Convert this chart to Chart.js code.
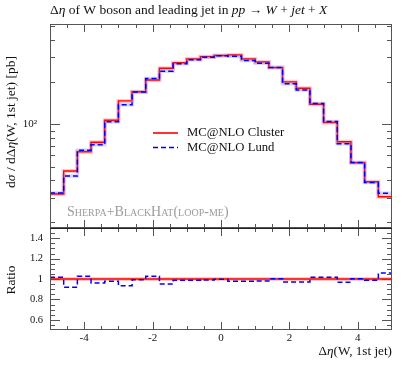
<!DOCTYPE html>
<html>
<head>
<meta charset="utf-8">
<script src="https://cdn.jsdelivr.net/npm/chart.js@4"></script>
<style>
  html, body { margin: 0; padding: 0; background: #fff; }
  #wrap { position: relative; width: 405px; height: 365px; overflow: hidden; }
  canvas { position: absolute; left: 0; }
  #mainChart { top: 0; }
  #ratioChart { top: 224px; }
</style>
</head>
<body>
<div id="wrap">
  <canvas id="mainChart" width="405" height="232"></canvas>
  <canvas id="ratioChart" width="405" height="141"></canvas>
</div>
<script>
// ── DATA ─────────────────────────────────────────────────────────────────────
const binEdges = [-5, -4.6, -4.2, -3.8, -3.4, -3.0, -2.6, -2.2, -1.8, -1.4, -1.0, -0.6, -0.2,
                  0.2, 0.6, 1.0, 1.4, 1.8, 2.2, 2.6, 3.0, 3.4, 3.8, 4.2, 4.6, 5.0];

const clusterVals = [31.8, 46.4, 63.7, 74.4, 107, 147, 171, 207, 251, 275, 293, 304, 310,
                     313, 293, 279, 254, 201, 181, 139, 103, 75.1, 53.2, 38.9, 30.4];
const lundVals    = [32.3, 42.7, 65.4, 71.5, 104.5, 138, 170, 212, 239, 271, 289, 301, 309,
                     306, 286, 273, 254, 195, 176, 141, 104.6, 72.6, 53.4, 38.4, 32.2];
const lundRatio   = [1.016, 0.919, 1.026, 0.961, 0.977, 0.935, 0.993, 1.026, 0.951, 0.987, 0.987, 0.99, 0.997,
                     0.977, 0.977, 0.98, 1.003, 0.971, 0.971, 1.016, 1.016, 0.967, 1.003, 0.987, 1.059];
const clusterRatio = [1, 1];

const seriesNames = ["MC@NLO Cluster", "MC@NLO Lund"];

const xTickVals   = [-4, -2, 0, 2, 4];
const xMinorTicks = [-4.5, -3.5, -3, -2.5, -1.5, -1, -0.5, 0.5, 1, 1.5, 2.5, 3, 3.5, 4.5];
const yMainTicks  = [100];
const yMainLabels = ["10²"];
const yMainMinor  = [20, 30, 40, 50, 60, 70, 80, 90, 200, 300, 400, 500];
const ratioTicks  = [0.6, 0.8, 1, 1.2, 1.4];
const ratioLabels = ["0.6", "0.8", "1", "1.2", "1.4"];
const ratioMinor  = [0.55, 0.65, 0.7, 0.75, 0.85, 0.9, 0.95, 1.05, 1.1, 1.15, 1.25, 1.3, 1.35, 1.45];

const titleParts  = [["Δ", 0], ["η", 1], [" of W boson and leading jet in ", 0], ["pp", 1], [" → ", 0],
                     ["W", 1], [" + ", 0], ["jet", 1], [" + ", 0], ["X", 1]];
const yLabelParts = [["d", 0], ["σ", 1], [" / dΔ", 0], ["η", 1], ["(W, 1st jet) [pb]", 0]];
const xLabelParts = [["Δ", 0], ["η", 1], ["(W, 1st jet)", 0]];
const ratioLabel  = "Ratio";
const watermark   = "Sherpa+BlackHat(loop-me)";

// ── HELPERS ──────────────────────────────────────────────────────────────────
const SERIF = "'Liberation Serif', 'DejaVu Serif', serif";
const RED = "#ff0000", BLUE = "#0000ff";

function histPoints(vals) {
  return binEdges.map((e, i) => ({ x: e, y: vals[Math.min(i, vals.length - 1)] }));
}

function drawRich(ctx, parts, x, y, size, align) {
  const fontOf = it => (it ? "italic " : "") + size + "px " + SERIF;
  let total = 0;
  parts.forEach(p => { ctx.font = fontOf(p[1]); total += ctx.measureText(p[0]).width; });
  let cx = align === "center" ? x - total / 2 : align === "right" ? x - total : x;
  ctx.textAlign = "left";
  parts.forEach(p => {
    ctx.font = fontOf(p[1]);
    ctx.fillText(p[0], cx, y);
    cx += ctx.measureText(p[0]).width;
  });
}

function noPad(s) {
  s.paddingTop = 0; s.paddingBottom = 0; s.paddingLeft = 0; s.paddingRight = 0;
}

function drawFrame(chart, yScale, majors, minors) {
  const ctx = chart.ctx, a = chart.chartArea, xs = chart.scales.x;
  ctx.save();
  ctx.strokeStyle = "#555";
  ctx.lineWidth = 1;
  ctx.strokeRect(a.left + 0.5, a.top + 0.5, a.right - a.left - 1, a.bottom - a.top - 1);
  ctx.beginPath();
  const xt = (v, len) => {
    const px = Math.round(xs.getPixelForValue(v)) + 0.5;
    ctx.moveTo(px, a.top); ctx.lineTo(px, a.top + len);
    ctx.moveTo(px, a.bottom); ctx.lineTo(px, a.bottom - len);
  };
  xTickVals.forEach(v => xt(v, 8));
  xMinorTicks.forEach(v => xt(v, 4));
  const yt = (v, len) => {
    const py = Math.round(yScale.getPixelForValue(v)) + 0.5;
    ctx.moveTo(a.left, py); ctx.lineTo(a.left + len, py);
    ctx.moveTo(a.right, py); ctx.lineTo(a.right - len, py);
  };
  majors.forEach(v => yt(v, 10));
  minors.forEach(v => yt(v, 5));
  ctx.stroke();
  ctx.restore();
}

// ── MAIN PANEL ───────────────────────────────────────────────────────────────
const mainTexts = {
  id: "mainTexts",
  afterDraw(chart) {
    const ctx = chart.ctx;
    drawFrame(chart, chart.scales.y, yMainTicks, yMainMinor);
    ctx.save();
    ctx.fillStyle = "#111";
    ctx.textBaseline = "alphabetic";
    drawRich(ctx, titleParts, 50, 14, 13.5, "left");

    ctx.save();
    ctx.translate(15, 122);
    ctx.rotate(-Math.PI / 2);
    drawRich(ctx, yLabelParts, 0, 0, 13.5, "center");
    ctx.restore();

    // legend
    ctx.lineWidth = 1.6;
    ctx.strokeStyle = RED;
    ctx.setLineDash([]);
    ctx.beginPath(); ctx.moveTo(153, 133); ctx.lineTo(178, 133); ctx.stroke();
    ctx.strokeStyle = BLUE;
    ctx.setLineDash([5, 3]);
    ctx.beginPath(); ctx.moveTo(153, 147.5); ctx.lineTo(178, 147.5); ctx.stroke();
    ctx.setLineDash([]);
    ctx.font = "12.7px " + SERIF;
    ctx.textBaseline = "middle";
    ctx.fillText(seriesNames[0], 187, 133);
    ctx.fillText(seriesNames[1], 187, 147.5);

    // watermark
    ctx.fillStyle = "#9c9c9c";
    ctx.font = "small-caps 14px " + SERIF;
    ctx.fillText(watermark, 67, 212);
    ctx.restore();
  }
};

new Chart(document.getElementById("mainChart"), {
  type: "line",
  data: {
    datasets: [
      { data: histPoints(lundVals), borderColor: BLUE, borderWidth: 1.5, borderDash: [5, 3], order: 0 },
      { data: histPoints(lundVals), borderColor: "rgba(90,90,255,0.25)", borderWidth: 3.5, order: 1 },
      { data: histPoints(clusterVals), borderColor: RED, borderWidth: 1.4, order: 2 },
      { data: histPoints(clusterVals), borderColor: "rgba(255,60,60,0.28)", borderWidth: 4, order: 3 }
    ].map(d => Object.assign(d, { stepped: "before", pointRadius: 0, fill: false, tension: 0 }))
  },
  options: {
    responsive: false,
    animation: false,
    layout: { padding: { top: 24, right: 13, bottom: 4, left: 0 } },
    plugins: { legend: { display: false }, tooltip: { enabled: false } },
    scales: {
      x: { type: "linear", min: -5, max: 5, display: false },
      y: {
        type: "logarithmic", min: 18.2, max: 520,
        afterFit: s => { s.width = 50; noPad(s); },
        afterBuildTicks: s => { s.ticks = yMainTicks.map(v => ({ value: v })); },
        grid: { display: false, drawTicks: false },
        border: { display: false },
        ticks: { padding: 13, color: "#111", font: { family: SERIF, size: 11 },
                 callback: (v, i) => yMainLabels[i] }
      }
    }
  },
  plugins: [mainTexts]
});

// ── RATIO PANEL ──────────────────────────────────────────────────────────────
const ratioTexts = {
  id: "ratioTexts",
  afterDraw(chart) {
    const ctx = chart.ctx;
    drawFrame(chart, chart.scales.y, ratioTicks, ratioMinor);
    ctx.save();
    ctx.strokeStyle = "#222";
    ctx.lineWidth = 1;
    ctx.beginPath();
    ctx.moveTo(chart.chartArea.left, chart.chartArea.top + 0.5);
    ctx.lineTo(chart.chartArea.right, chart.chartArea.top + 0.5);
    ctx.stroke();
    ctx.fillStyle = "#111";
    ctx.textBaseline = "alphabetic";
    ctx.save();
    ctx.translate(15, 56);
    ctx.rotate(-Math.PI / 2);
    ctx.font = "13.5px " + SERIF;
    ctx.textAlign = "center";
    ctx.fillText(ratioLabel, 0, 0);
    ctx.restore();
    drawRich(ctx, xLabelParts, 392, 131, 13.2, "right");
    ctx.restore();
  }
};

new Chart(document.getElementById("ratioChart"), {
  type: "line",
  data: {
    datasets: [
      { data: histPoints(lundRatio), borderColor: BLUE, borderWidth: 1.5, borderDash: [5, 3], order: 0 },
      { data: clusterRatio.map((v, i) => ({ x: i === 0 ? binEdges[0] : binEdges[binEdges.length - 1], y: v })),
        borderColor: RED, borderWidth: 1.4, order: 2 },
      { data: clusterRatio.map((v, i) => ({ x: i === 0 ? binEdges[0] : binEdges[binEdges.length - 1], y: v })),
        borderColor: "rgba(255,60,60,0.28)", borderWidth: 4, order: 3 }
    ].map(d => Object.assign(d, { stepped: "before", pointRadius: 0, fill: false, tension: 0 }))
  },
  options: {
    responsive: false,
    animation: false,
    layout: { padding: { top: 4, right: 13, bottom: 0, left: 0 } },
    plugins: { legend: { display: false }, tooltip: { enabled: false } },
    scales: {
      x: {
        type: "linear", min: -5, max: 5,
        afterFit: s => { s.height = 35; noPad(s); },
        afterBuildTicks: s => { s.ticks = xTickVals.map(v => ({ value: v })); },
        grid: { display: false, drawTicks: false },
        border: { display: false },
        ticks: { padding: 2, color: "#111", maxRotation: 0, font: { family: SERIF, size: 11 },
                 callback: v => String(v) }
      },
      y: {
        type: "linear", min: 0.5, max: 1.5,
        afterFit: s => { s.width = 50; noPad(s); },
        afterBuildTicks: s => { s.ticks = ratioTicks.map(v => ({ value: v })); },
        grid: { display: false, drawTicks: false },
        border: { display: false },
        ticks: { padding: 7, color: "#111", font: { family: SERIF, size: 10.5 },
                 callback: (v, i) => ratioLabels[i] }
      }
    }
  },
  plugins: [ratioTexts]
});
</script>
</body>
</html>
